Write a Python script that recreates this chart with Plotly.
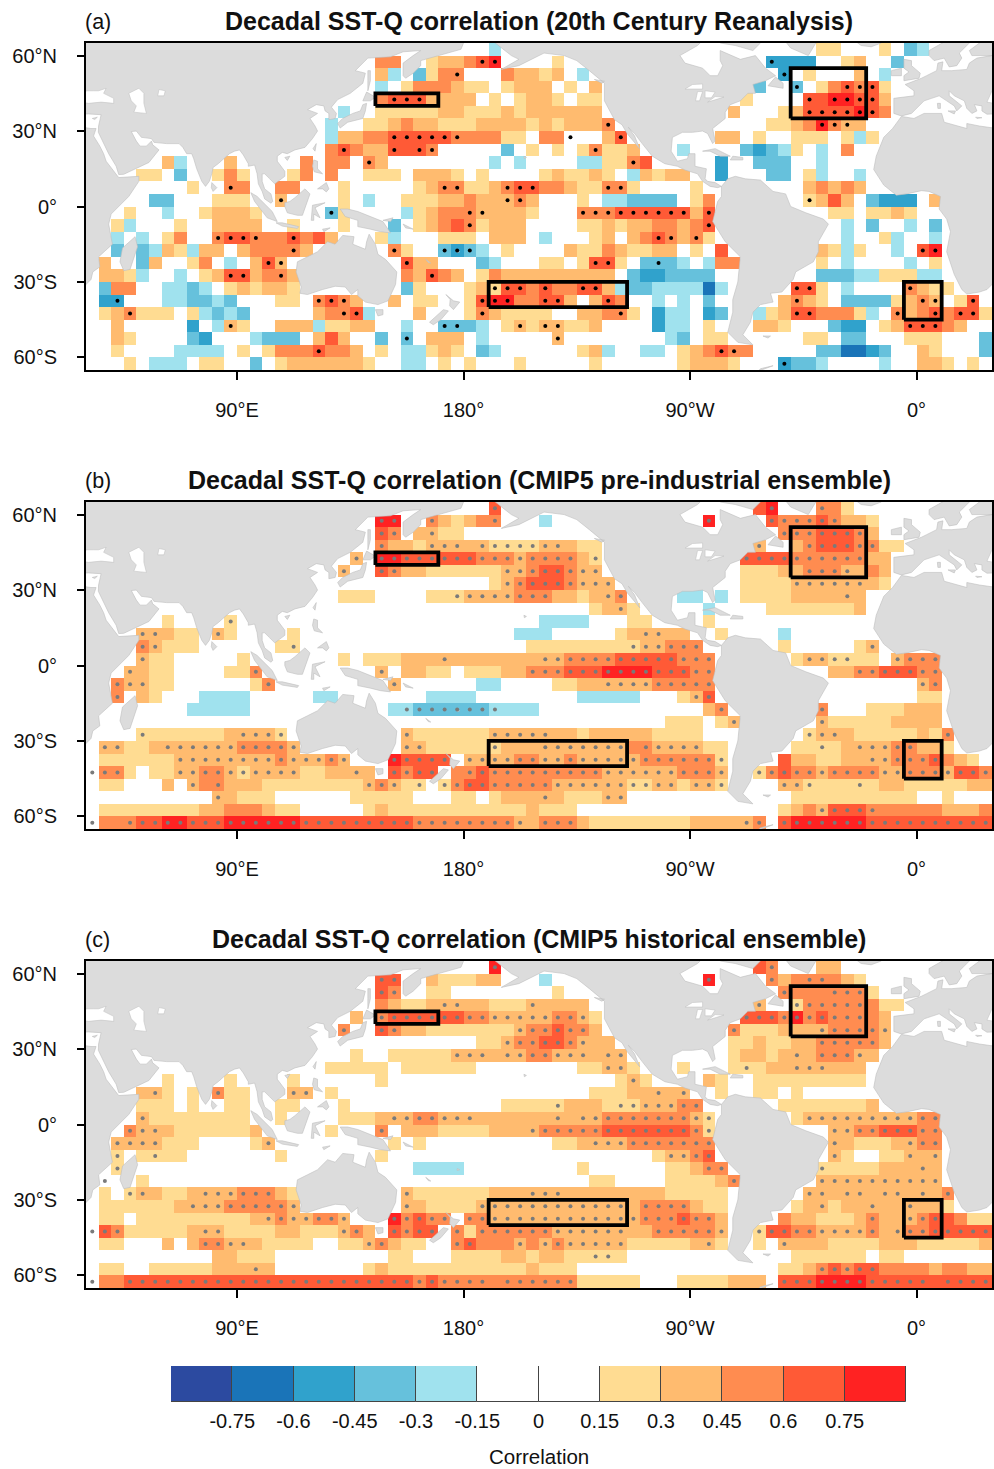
import plotly.graph_objects as go

# Row specs: top row (60-65N) first, each "firstCol-lastCol:level".
# levels 1-5 positive classes, p q r s t negative classes; upper case = significant cell, W = significant weak cell
LEVEL_VALUES = {'1': .22, '2': .37, '3': .52, '4': .67, '5': .82, 'p': -.22, 'q': -.37, 'r': -.52, 's': -.67, 't': -.82,
                'A': .22, 'B': .37, 'C': .52, 'D': .67, 'E': .82, 'P': -.22, 'Q': -.37, 'R': -.52, 'S': -.67, 'W': 0}

A_LEFT = [
 "32:p",
 "23-24:3 27:1 28-29:2 30:3 31:D 32:E",
 "23:2 24:p 26:q 27:1 28:3 29:C 33:3 34-35:2",
 "23:p 25:1 26-28:3 29:2 30-31:1 33:1 34-35:2",
 "23:3 24-26:D 27:2 28-30:2 32:1 34:1 35:2",
 "20:p 23-27:1 28-29:2 30-32:1 33:2 34:1 35:2",
 "19:p 22-23:1 24:2 25:3 26-27:2 28-30:1 31-34:2 35:1",
 "19:p 20-21:2 22-23:3 24-28:D 29:C 30-32:3 33-34:1",
 "19:3 20:D 21:3 22-23:2 24:D 25:4 26:D 27:C 33:q 35:1",
 "6:2 7:p 11:2 17:3 19-20:3 22:C 23:2 32:p 34:p",
 "4-5:1 7:q 10:1 11:3 12:1 16:1 17:3 19:3 22-24:1 26-28:2 29:1 31:1",
 "8:1 11:C 12:3 15-16:3 20:1 26:1 27:2 28-29:C 30-31:1 32:2 33:C 34-35:D",
 "5-6:q 10-12:1 15:B 20:1 22:p 25-27:1 28-29:2 30:3 31-32:2 33:B 34:C 35:2",
 "3:1 6:p 9:1 10-12:2 13:1 19:Q 20:1 25:p 26:1 27:2 28-29:3 30:C 31:B 32-34:2 35:1",
 "2:1 3:p 7:1 10-13:2 16:1 20:1 24:q 26:1 27:2 28:3 29:4 30:C 31:1 32-34:2",
 "2:p 4:p 6:1 7:3 10:C 11-12:D 13:C 14-15:3 16:D 17:3 18:4 19:2 23:1 24:p 28-30:1 32-34:2",
 "2:q 4:q 5:p 6:2 7:1 8:p 9-10:2 12:2 13-15:3 16:C 17:2 24:C 25:1 28:Q 29:R 30:Q 31:p 33:1",
 "1:2 4:q 5:2 8:1 9:3 11:p 13:2 14:D 15:B 25:D 26-27:2 31:q 32:p",
 "1-2:2 3:1 4:p 7:p 9:1 10:2 11-12:D 13:2 14:3 15:C 16:2 25:3 26:2 27:D 28:3 29:2 31:1 32:3 33-35:2",
 "1:q 2-3:3 6-7:p 8:q 9:p 11:1 12:2 13:1 14-15:2 16:1 25:q 26:1 30:1 31:2 32:A 33-34:D 35:3",
 "1:r 2:R 6-7:p 8-9:q 10:p 11:q 15-16:1 18:C 19:D 20:C 21:2 24:2 26-27:1 30:1 31:D 32-33:E 34-35:3",
 "1:1 2:2 3:C 4-6:1 8:1 9:p 10:q 11:p 12:q 18:2 19:3 20:C 21:D 22:p 26:2 30:1 31:C 32:2 33-35:1",
 "2:2 8:r 10:p 11:B 12:1 15-17:2 18:p 19-20:1 21-22:2 25:p 28-29:Q 30:q 31:p 33:1 34:B 35:1",
 "2:2 3:1 8:q 9:r 13:p 14-16:q 18:2 19:4 20:2 23:q 25:Q 27-29:2 31:p",
 "2:1 7-10:p 12:1 14:1 15-17:3 18:D 19-20:3 21:2 23:1 25-26:p 27:1 28:2 29:1 31:q 32:p",
 "3:1 5-7:p 9-10:1 13:q 15:1 16-21:2 22:1 25-26:p 28:1 30:1 34:1",
]
A_RIGHT = [
 "22-23:1 27:1 29:q 30:p",
 "1:1 18:R 19-21:r 24:1 25:2 28:q",
 "0:1 1:2 3:p 19:R 21:1 25:2 27:p",
 "0:2 2:1 4:2 17:q 20:Q 22:1 23:3 24:D 25:C 26:D 27:1",
 "0:2 1:1 3-4:1 16:1 21:D 22:4 23-24:E 25-26:D 27:2",
 "0-4:2 15:2 19:1 20:2 21-24:D 25:E 26:D 27:3",
 "0:2 1:1 2-4:2 5:C 18-19:1 20:2 21:3 22:E 23:C 24:B 25:2",
 "0-1:3 2:W 5:2 6:D 14-15:2 17:1 20-22:1 24:1 25:p 26:1",
 "1:1 3:1 4:C 5-6:1 7:2 11:p 16:q 17:r 18:q 19:p 20:1 22:p 24:3",
 "3-4:p 5-6:1 7:C 8:4 14:r 17-19:q 22:p",
 "0:1 1:2 2-3:1 4:2 5:1 7:p 8:2 9:1 10-11:2 14:r 18-19:q 21:1 22:p 25:p",
 "0-1:3 2:2 3-4:1 5-6:C 7:1 12:1 21:2 22:3 23:2 24:3 25:2",
 "3:1 5-6:p 7-10:q 12:1 13:3 21:A 22:2 23:4 24:2 26:q 27-29:r 31:2",
 "3-5:C 6-11:D 12:2 13:D 23-24:1 26-27:1 28:2 29:1",
 "3-4:1 5:2 6:1 7-8:2 9-10:3 11:2 12:3 13:D 24:p 26:q 29:p 31:q",
 "0:p 4:1 5:2 7:2 8:3 9:D 10:C 11:2 12:C 13:1 24:p 27:1 28:p 31:p",
 "2:2 3-4:1 5:3 6:2 7-8:1 9-10:2 12:1 14:4 22:2 23:1 24:p 25:1 28:p 30:D 31:E",
 "0-1:1 3:1 4-5:D 6:1 8:q 9:Q 10:q 11:p 13:p 14-15:3 22:1 24:p 29:p 31:1",
 "0-5:2 7:q 8-9:r 10-13:q 22-24:q 25-26:p 27-29:1 30-31:p",
 "0:D 1-2:3 3-4:D 5:2 6:p 7-8:q 9-12:p 13:s 14:p 20-21:D 22:1 24:p 29:C 30:2 31-32:1",
 "0-1:D 2:2 4:2 5:D 6:3 9:p 11:p 13:q 19:2 20:C 21:2 22:1 24-27:q 28:1 29:2 30:C 31:B 33:1 34:D",
 "0:1 3-4:2 5:3 6:C 7:1 9:r 10-11:p 13:r 14:q 17:p 18:1 19:2 20-21:D 22-24:3 25:1 26:p 28:C 29:2 30:3 31:D 32:3 33-34:D 35:1",
 "0-1:B 2-3:1 4:2 9:r 10-11:p 13:1 17-18:2 19:1 23:q 24-25:r 27:1 28:2 29-31:D 32:3 33:2",
 "1:B 10:p 11:q 13-14:1 21-22:1 24-25:q 29-31:1 35:q",
 "3:1 4:2 5:p 8-9:p 11:1 12:2 13:3 14:D 15:C 16:3 22-23:q 24-25:s 26:r 27:q 30:2 31:1 35:q",
 "4:1 11:1 12-14:2 15:1 19:R 20-21:q 22:p 27:p 30-31:2 32:1 34:1",
]
B_LEFT = [
 "32:D",
 "23-24:E 27:C 28:2 29:1 30:2 31:3 32:C",
 "23:D 24:C 26:2 27:B 28-29:1",
 "23:C 24-25:2 26:1 27-29:B 30:2 31:B 32-35:A",
 "21:B 23-24:E 25-30:D 31-33:C 34:B 35:C",
 "20:B 23:D 24:C 25-26:2 27-32:1 33-34:B 35:C",
 "32:1 33:B 34:C 35:D",
 "20-22:1 27-28:1 29:A 30-33:B 34-35:C",
 "",
 "6:1 11:A",
 "4-5:B 6:2 7-8:1 10:B 11:1 16:1 34-35:p",
 "4:C 5:B 6-8:1 15:1 16:A 35:1",
 "4:B 5-6:1 12:1 20:1 22-24:1 25-27:2 28:B 29-35:2",
 "3:B 4:2 5-6:1 11-12:1 13:C 23:B 25-26:2 27-28:1 30-32:1 33-34:2 35:C",
 "2:C 3-4:B 5-6:1 13:1 14:C 24:B 31-32:p",
 "2:C 4:2 5:1 9-12:p 18-19:p 27-30:p",
 "8-12:p 24:p 25:P 26-31:Q 32:P 33-35:p",
 "",
 "4:A 5-10:1 11:2 12-14:B 15:A 25:B 26-31:1 32-35:B",
 "1-2:B 3-4:1 5:2 6-11:B 12-15:C 16:B 25-26:B 27-31:1 32:A 33-35:2",
 "1-6:1 7-14:B 15:C 16-18:B 19:C 20:B 24:E 25-28:D 30-33:B 34-35:C",
 "0:W 1-2:C 3:1 5-6:1 7-8:B 9-10:C 11:B 12:A 13-16:B 17-18:1 19-20:2 21:B 22:2 24:D 25:C 26-27:D 29:3 30:C 31:D 32-35:C",
 "1-2:1 6:2 8:B 9:3 10:C 11-13:2 14-21:1 22:B 23:C 24:B 25:1 26:A 28:A 29:C 30-31:D 32-35:C",
 "10:B 11:2 12-14:1 21-25:1 29-30:1 32:1 33-35:2",
 "1-8:1 9-10:2 11-13:3 14:2 15-16:1 22:1 23:2 24-34:1 35:2",
 "0:W 1-2:3 3:C 4-5:D 6-7:E 8-10:D 11-16:E 17-25:D 26-33:C 34:B 35:2",
]
B_RIGHT = [
 "17:4 18:E 22:C 23:3 24:1",
 "0:p 13:E 18:D 19-21:C 22:D 23:C 24-25:2 26:1",
 "19-21:C 22-24:D 25:C 26:2",
 "0-1:B 2:2 3-4:1 17:B 20:2 21:C 22-24:D 25-26:C 27-28:1",
 "0-2:C 3:2 4:A 16-19:D 20-25:C 26-27:2",
 "0-1:D 2:C 3-4:B 16-18:1 19-20:2 21-23:C 24:B 25:2 26:3 27:2",
 "0-1:D 2:C 3-5:B 16-19:1 20-25:B 26:2 27:1",
 "0:C 1-2:2 3:1 4:2 5:B 6:C 11-12:p 14:p 16-19:1 20-23:2 24:B 25:2",
 "4:1 5:2 6:B 7:1 13:p 18-24:1 25:2",
 "0-3:p 7-8:1 13:1",
 "0:p 6:1 7:2 8-9:B 10-11:2 14:1 19:p",
 "0-6:1 7:A 8-9:B 10-12:C 19:1 25:1 26:B",
 "0-1:B 2-5:C 6-10:D 11-13:C 20:1 21-22:B 23-24:A 25-26:1 28:B 29-31:C",
 "0-1:C 2-4:D 5-8:E 9-11:D 12-13:C 23-24:2 25-26:C 27-29:D 30-31:C",
 "1-2:1 3-4:2 5-8:B 9-13:C 30:B 31:C",
 "3-7:p 11:1 12:B 13:D 30-31:1",
 "13:2 14:C 22:C 26-28:1 29-31:2",
 "10-12:1 14:1 15:B 22:B 23-27:1 28-31:2",
 "0:B 1-2:2 3:1 4-8:2 9-12:1 21:A 22-23:B 24:2 25-29:1 30:2 31:1 32:C",
 "0-6:B 7:3 8:C 9-12:B 13-14:1 20-21:1 22:A 23:1 24:2 25-27:B 28-29:C 30-31:2 32:1",
 "0-1:B 2:C 3-7:B 8-13:C 14:A 19:4 20-21:2 22-23:1 24-25:2 26-27:B 28-30:C 31:D 32:3 33:2 34:1",
 "0-4:C 5-10:B 11-13:C 14:B 17:A 18:C 19:D 20-21:C 22:B 23-26:C 27-28:B 29-31:C 32:B 33-34:D 35:C",
 "0:C 1-6:B 7-8:A 9-10:B 11:1 12-13:B 14:A 19-20:B 21:A 22-24:1 25:A 26:1 27-28:2 29-33:1 34-35:2",
 "0:B 1:2 2-4:1 5-6:B 20-29:1 32:1",
 "0-2:1 19:1 20:2 21:3 22:B 23-25:D 26:C 27-31:3 32-34:2 35:3",
 "0-2:C 3:2 4-11:1 12-15:2 16:B 17:C 19:D 20-25:E 26-35:D",
]
C_LEFT = [
 "32:E",
 "23-24:D 27:2 28-30:1 31-32:2",
 "23:D 24:C 27-28:1",
 "23:3 24:2 25-26:1 27:2 28-29:B 30-31:2 32-34:1 35:B",
 "21:2 23:C 24-29:D 30-31:C 32-35:B",
 "20:C 23:D 24:C 25-26:2 27-33:1 34:B 35:C",
 "31-32:1 33:B 34-35:C",
 "21:1 24-28:1 29-31:B 32:2 33-34:B 35:C",
 "19-23:1 25-30:1",
 "6:1 11:1 16:1 23:1",
 "4:2 5:B 6:1 8:1 10:C 11-12:1 16-17:B 19:1",
 "4-6:1 8:1 11-12:1 15-16:1 20:1 33-35:1",
 "4:B 5-12:1 15:1 20-22:1 23:2 24-25:B 26-27:C 28-30:B 31-35:2",
 "3:C 4-5:B 6:2 7-12:1 13:2 19:1 23:C 25-27:2 28-31:1 32-34:2 35:B",
 "2-5:B 6-8:1 13:1 14:B 24:1 26:1",
 "2:A 4:1 5:A 6-7:1 15:1 23:1",
 "2:A 26-29:p",
 "1:W 4:1",
 "1:1 3:A 4:B 5:2 6-7:1 8:2 9-11:B 12-14:C 15:2 16:1 25:B 26-31:1 32-34:2 35:B",
 "1-6:1 7:2 8-10:B 11-15:C 16:B 25:B 26:2 27-30:1 31-35:B",
 "1-2:1 4-12:1 13:2 14:B 15:C 16-17:B 18-19:C 20:B 24:E 25:C 26:D 27-28:C 30-31:C 32-35:B",
 "0:W 1:D 2:C 3-7:1 8:2 9-10:B 11-14:1 15-16:2 17-19:1 20:B 21:C 22:2 24:D 25:C 26-27:D 29:C 30:1 31-35:C",
 "1-2:1 6:2 8:2 9-10:C 11-12:B 13:2 14-17:1 20-21:1 22:B 23:C 24:2 25-26:1 29:C 30:D 31-33:3 34:B 35:3",
 "10-11:2 12-14:1 24-25:1 29-32:1 33-34:2 35:1",
 "1-2:1 5-9:1 10-12:2 13:B 14:2 22:1 23:2 24-34:1 35:2",
 "0:W 1-2:3 3-25:D 26:C 27:D 28-31:C 32:3 33-35:C",
]
C_RIGHT = [
 "17:4 18:C 22-23:2",
 "0:p 13:E 18:C 19:2 20:3 21-22:C 23:3 24:2 25:1",
 "1:1 19:C 20-22:3 23-25:C 26:1",
 "0-3:2 17:B 20:A 21-25:C 26:3 27-28:1",
 "0:B 1-2:C 3:B 4:1 16-18:D 19:C 20:E 21:C 22:D 23-25:C 26:3 27:2",
 "0:C 1:D 2-3:C 4:2 15:C 16-18:1 19-21:2 22:B 23-26:C 27:B",
 "0:D 1:D 2:C 3:B 4-5:2 15-16:1 17:2 18-19:1 20-21:2 22-26:C 27:2",
 "0:C 1-3:B 4:2 5-6:B 15:1 16-17:2 18:1 19:2 20:B 21:2 22-24:C 25:B 26:2",
 "3-4:1 5-6:B 7:1 11:1 15:1 16:A 17:1 18-19:2 20-22:B 23-25:2",
 "6:1 7:B 8:1 13:2 14:1 17-25:1",
 "4-6:1 7-8:2 9:B 10:2 11:B 14:1 17-18:1 20:1",
 "0:1 1:A 2-4:2 5:1 6-7:A 8-10:B 11-12:C 19-25:1 26:2",
 "0:2 1:B 2:2 3-4:B 5-11:C 12:B 13:A 20:1 21-29:B 30-31:C",
 "0-4:C 5-11:D 12:C 13:A 23-24:B 25-26:C 27-29:D 30-31:C",
 "1-2:1 3:2 4-6:B 7-13:C 23:B 24:2 25-27:1 28:2 29:B 30-31:C",
 "9:1 10-11:B 12:C 13:D 23:B 24:1 27-28:1 29:B 30:2 31:B",
 "3:1 10-11:1 12:2 13-14:C 22:A 23-26:1 27-29:2 30:B 31:2",
 "4-5:1 10-13:1 14:2 15:C 22-31:B",
 "0-1:B 2-9:2 10-14:1 21-22:B 23:2 24-25:B 26:2 27-28:B 29:2 30:B 31:2 32:C",
 "0-6:B 7:2 8-11:C 12:2 13-14:1 20:1 21:2 22:B 23:1 24-25:2 26:B 27-28:2 29:B 30-31:2 32:1",
 "0-7:B 8-10:C 11:D 12-13:C 14:2 19:3 20-21:2 22-24:1 25:2 26:C 27-28:2 29:B 30:C 31:D 32:4 33:3 34-35:1",
 "0:C 1-6:B 7-8:2 9-13:C 14:B 17:A 18-19:D 20-21:C 22-25:B 26:C 27:2 28:B 29-30:C 31-35:D",
 "0:B 1:C 2-6:B 7-11:1 12:2 13:B 14:1 17:1 19:B 20-22:2 23-26:1 27-29:2 30-34:1 35:2",
 "0-1:2 2-3:1 4-5:A 6:1 20-25:1 27-28:1",
 "0-2:1 19-20:1 21:2 22:C 23:D 24:C 25-26:D 27-30:3 31:2 32-33:3 34-35:2",
 "0-2:C 3-7:1 11-14:1 15-17:2 19-21:D 22-25:E 26-30:D 31:4 32-35:D",
]

LAT_TICKS = [60, 30, 0, -30, -60]
LAT_LABELS = ["60°N", "30°N", "0°", "30°S", "60°S"]
LON_TICKS = [90, 180, 270, 360]
LON_LABELS = ["90°E", "180°", "90°W", "0°"]
TITLES = ["Decadal SST-Q correlation (20th Century Reanalysis)",
          "Decadal SST-Q correlation (CMIP5 pre-industrial ensemble)",
          "Decadal SST-Q correlation (CMIP5 historical ensemble)"]
TAGS = ["(a)", "(b)", "(c)"]
BOXES = [(145, 170, 40, 45), (190, 245, -40, -30), (310, 340, 35, 55), (355, 370, -45, -30)]
BOUNDS = [-0.75, -0.6, -0.45, -0.3, -0.15, 0, 0.15, 0.3, 0.45, 0.6, 0.75]
BOUND_LABELS = ["-0.75", "-0.6", "-0.45", "-0.3", "-0.15", "0", "0.15", "0.3", "0.45", "0.6", "0.75"]
CLASS_COLORS = ["#2c4aa0", "#1a74b8", "#30a2cc", "#66c1dc", "#a0e2ee", "#ffffff", "#ffffff",
                "#ffdc92", "#ffbb6f", "#ff8c50", "#ff5a36", "#ff2222"]

LAND = [
 [(36,36.5),(35,32),(34.9,29.5),(37,25),(39,21),(42,16),(43,12.7),(45,12.8),(52,16),(55,17.5),(59,22.5),(56.5,24.5),(56,26),(54,24),(51.5,24),(50,26),(48,29.8),(50,30),(52,27.5),(56,27),(57,25.5),(62,25),(67,25),(68.5,23.5),(70,21),(72,21),(72.8,19),(74,15),(76,10),(77.5,8),(79,10),(80,13),(80.5,15.5),(82.5,17),(87,21),(89,22),(91,22.5),(92.5,20.5),(94.5,17),(94.5,16),(97,16.5),(98,13),(98.5,9),(100,6),(101,3),(103.5,1.3),(104.2,2),(103.5,5),(101,7),(100,10),(100,13),(101,13),(103,11),(105,9),(107,10.5),(109,12),(109,14),(106,18),(106,20),(108,21.5),(110,21),(113,22.5),(117,23.5),(120,27),(122,30),(121,32),(119,35),(122,37),(118,38.5),(121.5,40.5),(124.5,40),(125,38),(126.5,37),(126.5,34.5),(129,35),(129.5,37),(127.5,39.5),(130,42.5),(135,45),(140,49),(141,53),(137,54),(142,59),(151,59.5),(156,61.5),(163,62),(160,60),(156,57),(156,52),(157,51),(160,53),(163,56),(163,58),(170,60),(179,62.5),(180,65),(180,75),(100,75),(60,75),(40,70),(20,70),(12,66),(5,62),(5,60),(7,58),(11,59),(13,55.5),(16,56),(18,59),(17,61),(22,66),(25,65),(21,62),(22,60),(30,60),(24,59),(21,57),(20,54.5),(14,54),(10,54),(10.5,57.5),(8.5,57),(8,54),(4,52),(2,51),(-4.5,48.5),(-1,46),(-1,44),(-9,43),(-9,37),(-6,36),(-2,37),(0,39),(3,42),(6,43),(9,44),(12,42),(15,40),(16,38),(18,40),(13,44),(13,46),(15,44),(19,42),(20,39),(22,37),(24,38),(23,40.5),(26,40),(26,38),(28,36.7),(31,36.8)],
 [(-6,35.8),(-1,35),(3,37),(10,37),(11,33.5),(15,32.5),(20,31),(20,33),(25,32),(32,31),(34,31),(33,28),(35.5,24),(37,21),(38,18),(43,11.5),(51,12),(51,10),(47,4),(40,-3),(39,-7),(40.5,-15),(35,-20),(35.5,-24),(32.7,-26),(32,-29),(28,-33),(25,-34),(20,-34.8),(18,-33),(15,-27),(12,-18),(13.5,-10),(12,-5),(9,-1),(9.5,4),(5,6),(2,6.3),(-4,5),(-8,4.5),(-13,8.5),(-17,14.7),(-16,20),(-13,27.5),(-9.5,31)],
 [(49.5,-12),(50.5,-16),(47.5,-25),(45,-25.5),(43.5,-22),(44.5,-16.5)],
 [(80,9.5),(82,7.5),(80.5,6),(79.8,7.5)],
 [(95.5,5.5),(98,4),(104,-2),(106,-6),(102,-4.5),(97,2)],
 [(105.5,-6.5),(108,-6.5),(114.5,-8),(114,-8.7),(108,-7.8),(105.5,-6.8)],
 [(109,1.5),(111,2),(113,3.5),(117,7),(119,5),(117.5,1),(116,-3.5),(114,-3.5),(110,-2.5),(109,0)],
 [(119.5,-5.5),(120,0.5),(125,1.5),(121,-0.5),(123,-4.5),(120.5,-3),(120.5,-5.5)],
 [(120.5,18.5),(122,18),(122,15),(124,13),(120.7,13.8),(120,16)],
 [(122,7),(125.5,9.5),(126.5,7),(125.5,5.8),(124,7)],
 [(120.2,23),(121.5,25),(121,22)],
 [(109,19.5),(111,20),(110,18.3)],
 [(130,33),(131,31.2),(134,33.5),(136,34),(140,35),(141,38),(141.5,41),(140,40.5),(139,38),(136,37),(132,35)],
 [(140,42),(141.5,45.5),(145,43.5),(143,42)],
 [(142,46),(143,50),(143,54),(142,54),(142,50)],
 [(131,-1),(134,-1),(138,-2),(145,-5),(148,-6),(151,-10.5),(147,-10),(143,-9),(138,-8),(138,-5.5),(133,-4)],
 [(114,-22),(113.5,-26),(115.5,-32),(115,-34.5),(118,-35),(124,-33),(129,-31.7),(133,-32),(135.5,-35),(138,-33),(138,-35.5),(141,-38),(146,-39),(150,-37.5),(153,-31),(153.5,-26),(149,-21),(146,-19),(145,-15),(142.5,-11),(141.5,-14),(141,-17),(136,-15),(136.5,-12),(132,-11.5),(129,-15),(126,-14),(122,-18),(118,-20)],
 [(145,-41),(148,-41),(148,-43),(146,-43.5)],
 [(173,-35),(176,-37.5),(178.5,-38),(176,-41),(174.5,-39.5),(174.7,-37)],
 [(172,-41),(174,-41.5),(171,-45),(168,-47),(166.5,-46),(171,-42)],
 [(-168,65.5),(-165,63),(-161,60),(-158,58.5),(-165,54.5),(-158,56),(-152,59),(-148,61),(-140,60),(-135,58),(-130,54),(-124,49),(-124,42),(-120,34.5),(-117,32.5),(-115,29),(-110,23),(-112,28),(-114.5,31.5),(-112,29),(-109,25),(-105,20),(-100,17),(-95,16),(-92,14.5),(-87,13),(-85,10),(-82,8),(-79,7.5),(-77.5,8),(-80,9.5),(-83,10),(-84,11),(-83.5,15),(-88,16),(-88,21),(-90.5,21),(-91,19),(-95,18),(-97.5,22),(-97,27.5),(-93,29.5),(-89,29.5),(-85,30),(-83,29),(-81,25),(-80,26),(-81,31),(-76,35),(-76,37.5),(-74,40.5),(-70,42),(-67,45),(-64,45),(-65,48.5),(-60,50),(-56,52),(-60,55),(-64,60),(-70,58.5),(-78,62),(-78,58),(-77,56),(-79,52),(-82,52),(-85,55),(-92,57),(-94,60),(-87,64),(-85,66),(-85,75),(-170,75)],
 [(-62,65),(-65,62),(-72,64),(-78,65),(-75,70),(-62,70)],
 [(-43,60),(-50,63),(-54,68),(-55,75),(-20,75),(-20,70),(-40,65)],
 [(-59,48),(-53,47),(-53,49),(-56,51.5)],
 [(-24,65.5),(-22,64),(-18,63.5),(-14,65),(-15,66.5),(-22,66.5)],
 [(-5,50),(1,51),(1.5,53),(-2,56),(-2,58),(-5,58.5),(-5,55),(-3,53.5),(-5,52)],
 [(-10,52),(-6,52),(-6,55),(-10,54)],
 [(-85,22),(-80,23),(-74,20),(-78,20),(-82,22)],
 [(-74,18.5),(-69,18.5),(-69,19.5),(-73,20)],
 [(-77.5,8),(-75,11),(-72,12),(-68,11),(-62,10.5),(-57,6),(-52,5),(-50,0),(-44,-2.5),(-37,-5),(-35,-7),(-39,-14),(-39,-18),(-41,-22),(-48,-26),(-49,-29),(-53.5,-34),(-58,-34.5),(-57,-38),(-62,-39),(-65,-42),(-66,-46),(-69,-51),(-65,-55),(-71,-54),(-75,-50),(-73,-42),(-73,-37),(-71,-30),(-70,-20),(-76,-14),(-81,-6),(-80,-2),(-79,2),(-77.5,4)],
 [(-63,-65.5),(-57,-63.3),(-62,-64.5)],
 [(12.5,38),(15.5,38),(15,36.8)],
 [(8.3,41),(9.5,41),(9.5,39),(8.5,39)],
 [(23.5,35.5),(26,35.3),(24,35)],
 [(32.5,35),(34.5,35.5),(33.5,34.6)],
 [(-61,-51.5),(-58,-51.5),(-59,-52.3)],
 [(165,-21),(167,-22.5),(166,-22.3)],
 [(156,-7),(160,-9),(157,-8.5)],
 [(148,-5.5),(152,-4.5),(151,-6)],
 [(124,-9),(127,-8.5),(124.5,-10)],
 [(177.5,-17.5),(178.5,-18),(177.5,-18.3)],
 [(-156,20),(-155,19.5),(-155.8,19)],
 [(-128,50.5),(-125,49),(-124,49.8)],
]
LAKES = [
 [(28,41.5),(31,41),(36,41.5),(41,41),(41,43),(37,45),(38,47),(35,46),(33,46),(30,46)],
 [(49,37.5),(54,37),(53,41),(53,45),(51,47),(47,45),(48,42),(50,40)],
 [(58.5,44),(61,44),(61.5,46),(59,46.5)],
 [(-92,46.7),(-85,46.7),(-85,48.7),(-89,48.5)],
 [(-87.8,42),(-86.2,42),(-85,45.7),(-87,45.7)],
 [(-84,43.2),(-81.5,43.2),(-80,45.5),(-84,46)],
 [(-83,41.5),(-79,42.7),(-76.5,43.5),(-80,43.7)],
]

def parse(left, right):
    cells = []
    for side, rows in ((0, left), (36, right)):
        for j, spec in enumerate(rows):
            for part in spec.split():
                rng, lvl = part.split(':')
                a, _, b = rng.partition('-')
                for i in range(int(a), int(b or a) + 1):
                    cells.append((j, i + side, lvl))
    return cells

def outline(polys):
    xs, ys = [], []
    for shift in (0, 360):
        for p in polys:
            for lon, lat in list(p) + [p[0]]:
                xs.append(lon + shift); ys.append(lat)
            xs.append(None); ys.append(None)
    return xs, ys

stops = []
for k, c in enumerate(CLASS_COLORS):
    stops += [[k / 12, c], [(k + 1) / 12, c]]

LONS = [32.5 + 5 * i for i in range(72)]
LATS = [62.5 - 5 * j for j in range(26)]
fig = go.Figure()
panels = [(A_LEFT, A_RIGHT, "#000000"), (B_LEFT, B_RIGHT, "#7a7a7a"), (C_LEFT, C_RIGHT, "#7a7a7a")]
land_x, land_y = outline(LAND)
lake_x, lake_y = outline(LAKES)
tops = [43, 502, 961]
H = 1469; W = 994
layout_axes = {}
anns = []
for n, (left, right, dot_col) in enumerate(panels):
    ax = '' if n == 0 else str(n + 1)
    xa, ya = 'x' + ax, 'y' + ax
    z = [[0.0] * 72 for _ in LATS]
    dx, dy = [], []
    for j, i, lvl in parse(left, right):
        z[j][i] = LEVEL_VALUES[lvl]
        if lvl.isupper():
            dx.append(LONS[i]); dy.append(LATS[j])
    fig.add_trace(go.Heatmap(x=LONS, y=LATS, z=z, zmin=-0.9, zmax=0.9, colorscale=stops, showscale=False,
                             xaxis=xa, yaxis=ya, hoverinfo='skip'))
    fig.add_trace(go.Scatter(x=land_x, y=land_y, mode='lines', fill='toself', fillcolor='#dcdcdc',
                             line=dict(color='#bdbdbd', width=0.6), xaxis=xa, yaxis=ya, showlegend=False, hoverinfo='skip'))
    fig.add_trace(go.Scatter(x=lake_x, y=lake_y, mode='lines', fill='toself', fillcolor='#ffffff',
                             line=dict(color='#bdbdbd', width=0.5), xaxis=xa, yaxis=ya, showlegend=False, hoverinfo='skip'))
    bx, by = [], []
    for x0, x1, y0, y1 in BOXES:
        bx += [x0, x1, x1, x0, x0, None]; by += [y0, y0, y1, y1, y0, None]
    fig.add_trace(go.Scatter(x=dx, y=dy, mode='markers', marker=dict(color=dot_col, size=4), xaxis=xa, yaxis=ya, showlegend=False))
    fig.add_trace(go.Scatter(x=bx, y=by, mode='lines', line=dict(color='black', width=3.8), xaxis=xa, yaxis=ya, showlegend=False, hoverinfo='skip'))
    top = tops[n]
    layout_axes['xaxis' + ax] = dict(domain=[86 / W, 992 / W], range=[30, 390], anchor=ya, tickvals=LON_TICKS, ticktext=LON_LABELS,
                                     ticks='outside', ticklen=8, tickwidth=2, tickcolor='black', showline=True, mirror=True,
                                     linecolor='black', linewidth=2, showgrid=False, zeroline=False, ticklabelstandoff=13,
                                     tickfont=dict(family='Liberation Sans', size=20, color='#111'))
    layout_axes['yaxis' + ax] = dict(domain=[1 - (top + 327) / H, 1 - top / H], range=[-65, 65], anchor=xa, tickvals=LAT_TICKS, ticktext=LAT_LABELS,
                                     ticks='outside', ticklen=7, tickwidth=2, tickcolor='black', showline=True, mirror=True,
                                     linecolor='black', linewidth=2, showgrid=False, zeroline=False, ticklabelstandoff=16,
                                     tickfont=dict(family='Liberation Sans', size=20, color='#111'))
    anns.append(dict(text='<b>' + TITLES[n] + '</b>', x=539 / W, y=1 - (top - 22) / H, xref='paper', yref='paper', xanchor='center', yanchor='middle',
                     showarrow=False, font=dict(family='Liberation Sans', size=25, color='#111')))
    anns.append(dict(text=TAGS[n], x=83 / W, y=1 - (top - 21) / H, xref='paper', yref='paper', xanchor='left', yanchor='middle',
                     showarrow=False, font=dict(family='Liberation Sans', size=21.5, color='#111')))

centers = [-0.825 + 0.15 * k for k in range(12)]
fig.add_trace(go.Bar(x=centers, y=[1] * 12, width=[0.15] * 12, marker=dict(color=CLASS_COLORS, line=dict(color='#444', width=1)),
                     xaxis='x4', yaxis='y4', showlegend=False, hoverinfo='skip'))
layout_axes['xaxis4'] = dict(domain=[171 / W, 906 / W], range=[-0.9, 0.9], anchor='y4', tickvals=BOUNDS, ticktext=BOUND_LABELS,
                             ticks='', showline=False, showgrid=False, zeroline=False, ticklabelstandoff=5,
                             tickfont=dict(family='Liberation Sans', size=20, color='#111'))
layout_axes['yaxis4'] = dict(domain=[1 - 1402 / H, 1 - 1366 / H], range=[0, 1], anchor='x4', visible=False)
anns.append(dict(text='Correlation', x=539 / W, y=1 - 1456 / H, xref='paper', yref='paper', xanchor='center', yanchor='middle',
                 showarrow=False, font=dict(family='Liberation Sans', size=20.5, color='#111')))

fig.update_layout(width=W, height=H, margin=dict(l=0, r=0, t=0, b=0), paper_bgcolor='white', plot_bgcolor='white',
                  showlegend=False, annotations=anns, bargap=0, **layout_axes)
fig.write_html("out.html", post_script="document.body.style.margin='0';", config=dict(displayModeBar=False))
